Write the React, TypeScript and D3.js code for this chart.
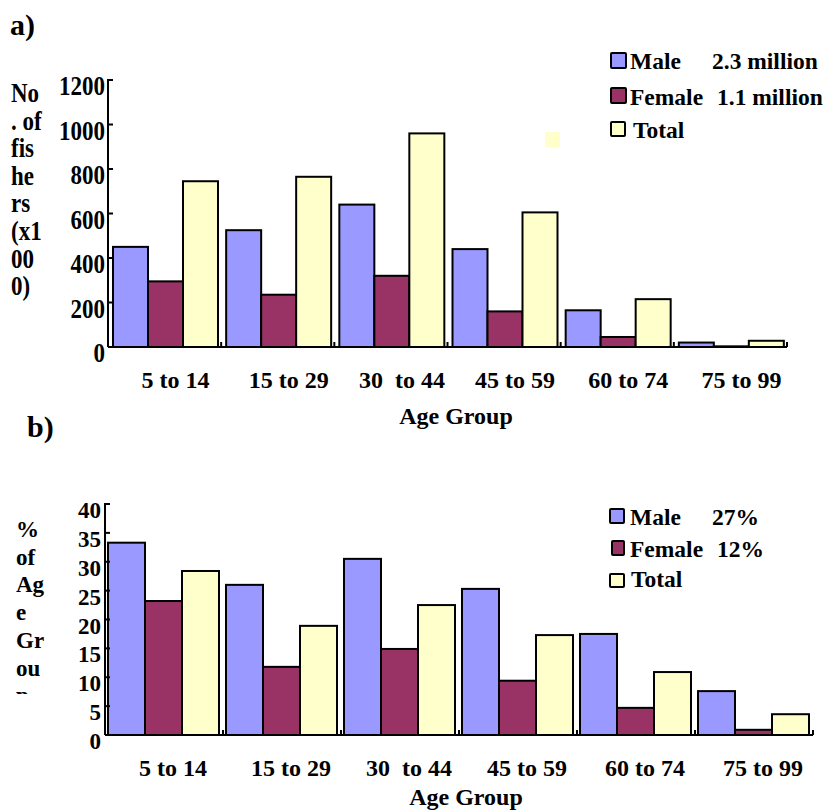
import React from "react";
import * as d3 from "d3";

const categories = ["5 to 14", "15 to 29", "30  to 44", "45 to 59", "60 to 74", "75 to 99"];
const seriesNames = ["Male", "Female", "Total"];
const seriesColors = ["#9999ff", "#993366", "#ffffcc"];

// Panel a: number of fishers (x1000)
const maleCounts = [450, 525, 640, 440, 165, 20];
const femaleCounts = [295, 235, 320, 160, 45, 3];
const totalCounts = [745, 765, 960, 605, 215, 28];
const countTicks = [0, 200, 400, 600, 800, 1000, 1200];
const countLegendValues = ["2.3 million", "1.1 million", ""];
const countTitleLines = ["No", ". of", "fis", "he", "rs", "(x1", "00", "0)"];

// Panel b: % of age group
const malePct = [33.3, 26, 30.5, 25.3, 17.5, 7.6];
const femalePct = [23.2, 11.8, 14.9, 9.4, 4.7, 0.9];
const totalPct = [28.4, 18.9, 22.5, 17.3, 10.9, 3.6];
const pctTicks = [0, 5, 10, 15, 20, 25, 30, 35, 40];
const pctLegendValues = ["27%", "12%", ""];
const pctTitleLines = ["%", "of", "Ag", "e", "Gr", "ou", "p"];

const FONT = "'Liberation Serif', 'Times New Roman', serif";

type PanelProps = {
  series: number[][];
  ticks: number[];
  yMax: number;
  x0: number; x1: number; y0: number; y1: number;
  inner: [number, number];
  tickLabelX: number; tickLabelDy: number; tickScaleY: number;
  labelBaseline: number; labelOffset: number;
  titleX: number; titleCenter: number; titleBaseline: number;
  yTitle: string[]; yTitleX: number; yTitleFirst: number; yTitleStep: number; yTitleScale: number; yTitleClip?: number;
  legendValues: string[];
  legendSquares: { x: number; y: number; w: number; h: number }[];
  legendTextX: number[]; legendBaselines: number[]; legendValueX: number[];
  id: string;
};

function Panel(p: PanelProps) {
  const xBand = d3.scaleBand<string>().domain(categories).range([p.x0, p.x1]).paddingInner(0).paddingOuter(0);
  const inner = d3.scaleBand<string>().domain(seriesNames).range(p.inner).padding(0);
  const y = d3.scaleLinear().domain([0, p.yMax]).range([p.y0, p.y1]);
  const bw = xBand.bandwidth();
  return (
    <g>
      {p.yTitleClip !== undefined && (
        <defs>
          <clipPath id={p.id + "clip"}>
            <rect x={0} y={0} width={100} height={p.yTitleClip} />
          </clipPath>
        </defs>
      )}
      {/* bars */}
      {categories.map((c, i) => (
        <g key={c}>
          {seriesNames.map((s, j) => {
            const v = p.series[j][i];
            const top = y(v);
            return (
              <rect key={s} x={(xBand(c) as number) + (inner(s) as number)} y={top}
                width={inner.bandwidth()} height={Math.max(0, y(0) - top)}
                fill={seriesColors[j]} stroke="#000" strokeWidth={2} />
            );
          })}
        </g>
      ))}
      {/* axes */}
      <line x1={p.x0} x2={p.x0} y1={y(p.yMax) - 1} y2={y(0)} stroke="#000" strokeWidth={2} />
      <line x1={p.x0} x2={p.x1} y1={y(0)} y2={y(0)} stroke="#000" strokeWidth={2} />
      {p.ticks.map((t) => (
        <g key={t}>
          <line x1={p.x0} x2={p.x0 + 5} y1={y(t)} y2={y(t)} stroke="#000" strokeWidth={2} />
          <text transform={`translate(${p.tickLabelX},${y(t) + p.tickLabelDy}) scale(1,${p.tickScaleY})`}
            textAnchor="end" fontFamily={FONT} fontWeight="bold" fontSize={23}>{t}</text>
        </g>
      ))}
      {categories.map((c, i) => (
        <line key={"t" + c} x1={(xBand(c) as number) + bw} x2={(xBand(c) as number) + bw}
          y1={y(0)} y2={y(0) - 5} stroke="#000" strokeWidth={2} />
      ))}
      {categories.map((c) => (
        <text key={"l" + c} x={(xBand(c) as number) + bw / 2 + p.labelOffset} y={p.labelBaseline}
          textAnchor="middle" fontFamily={FONT} fontWeight="bold" fontSize={24}
          style={{ whiteSpace: "pre" }}>{c}</text>
      ))}
      <text x={p.titleCenter} y={p.titleBaseline} textAnchor="middle" fontFamily={FONT}
        fontWeight="bold" fontSize={24}>Age Group</text>
      {/* y title */}
      <g clipPath={p.yTitleClip !== undefined ? `url(#${p.id}clip)` : undefined}>
        {p.yTitle.map((l, i) => (
          <text key={i} transform={`translate(${p.yTitleX},${p.yTitleFirst + i * p.yTitleStep}) scale(1,${p.yTitleScale})`}
            fontFamily={FONT} fontWeight="bold" fontSize={23} style={{ whiteSpace: "pre" }}>{l}</text>
        ))}
      </g>
      {/* legend */}
      {seriesNames.map((s, j) => (
        <g key={"lg" + s}>
          <rect x={p.legendSquares[j].x} y={p.legendSquares[j].y} width={p.legendSquares[j].w}
            height={p.legendSquares[j].h} fill={seriesColors[j]} stroke="#000" strokeWidth={2} rx={1} />
          <text x={p.legendTextX[j]} y={p.legendBaselines[j]} fontFamily={FONT} fontWeight="bold" fontSize={23.5}>{s}</text>
          {p.legendValues[j] && (
            <text x={p.legendValueX[j]} y={p.legendBaselines[j]} fontFamily={FONT} fontWeight="bold" fontSize={23.5}>{p.legendValues[j]}</text>
          )}
        </g>
      ))}
    </g>
  );
}

export default function App() {
  return (
    <svg width={825} height={811} style={{ position: "absolute", left: 0, top: 0, background: "#fff" }}>
      <rect x={0} y={0} width={825} height={811} fill="#fff" />
      <text x={10} y={35} fontFamily={FONT} fontWeight="bold" fontSize={30}>a)</text>
      <text x={27} y={437} fontFamily={FONT} fontWeight="bold" fontSize={30}>b)</text>
      <rect x={545} y={132} width={15} height={15} fill="#ffffcc" />
      <Panel id="a"
        series={[maleCounts, femaleCounts, totalCounts]} ticks={countTicks} yMax={1200}
        x0={108} x1={787} y0={347} y1={80} inner={[5, 110]}
        tickLabelX={105} tickLabelDy={15} tickScaleY={1.2}
        labelBaseline={388} labelOffset={11}
        titleCenter={456} titleBaseline={424} titleX={0}
        yTitle={countTitleLines} yTitleX={11} yTitleFirst={102} yTitleStep={27.6} yTitleScale={1.2}
        legendValues={countLegendValues}
        legendSquares={[{ x: 611, y: 53, w: 15, h: 15 }, { x: 611, y: 88, w: 15, h: 15 }, { x: 611, y: 122, w: 14, h: 14 }]}
        legendTextX={[630, 630, 633]} legendBaselines={[69, 105, 138]} legendValueX={[712, 717, 0]}
      />
      <Panel id="b"
        series={[malePct, femalePct, totalPct]} ticks={pctTicks} yMax={40}
        x0={105} x1={813} y0={735} y1={504} inner={[3, 114]}
        tickLabelX={101} tickLabelDy={14} tickScaleY={1}
        labelBaseline={776} labelOffset={9}
        titleCenter={466} titleBaseline={805} titleX={0}
        yTitle={pctTitleLines} yTitleX={16} yTitleFirst={537} yTitleStep={27.7} yTitleScale={1}
        yTitleClip={694}
        legendValues={pctLegendValues}
        legendSquares={[{ x: 610, y: 509, w: 14, h: 14 }, { x: 612, y: 541, w: 12, h: 14 }, { x: 610, y: 574, w: 14, h: 13 }]}
        legendTextX={[630, 630, 631]} legendBaselines={[525, 557, 587]} legendValueX={[712, 717, 0]}
      />
    </svg>
  );
}
